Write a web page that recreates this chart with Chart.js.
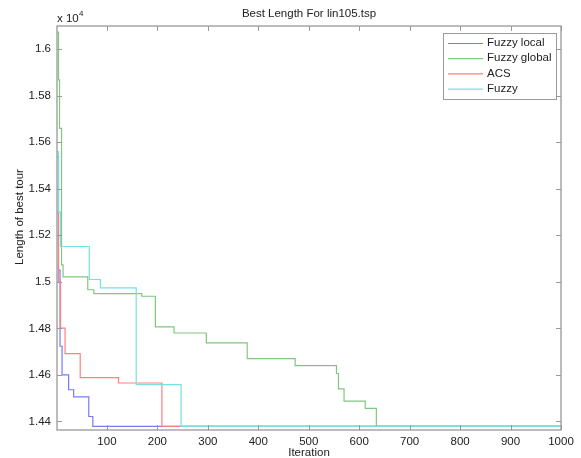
<!DOCTYPE html>
<html><head><meta charset="utf-8">
<script src="https://cdn.jsdelivr.net/npm/chart.js@4.4.1/dist/chart.umd.min.js"></script>
<style>html,body{margin:0;padding:0;background:#fff}#wrap{width:581px;height:458px}</style>
</head><body><div id="wrap"><canvas id="c" width="581" height="458"></canvas></div>
<script>
const chartTitle = "Best Length For lin105.tsp";
const xLabel = "Iteration";
const yLabel = "Length of best tour";
const seriesNames = ["Fuzzy local", "Fuzzy global", "ACS", "Fuzzy"];
const seriesColors = ["#7878ff", "#7fc87f", "#ff8080", "#78e0e0"];

const fuzzyLocalIter = [1, 4, 7, 11, 24, 34, 64, 72, 1000];
const fuzzyLocalLen  = [15538, 15050, 14723, 14600, 14536, 14505, 14421, 14379, 14379];

const fuzzyGlobalIter = [1, 4, 6, 10, 13, 62, 74, 169, 196, 233, 297, 378, 473, 555, 559, 570, 612, 634, 1000];
const fuzzyGlobalLen  = [16074, 15868, 15660, 15073, 15021, 14966, 14949, 14938, 14806, 14780, 14738, 14670, 14640, 14606, 14540, 14487, 14456, 14379, 14379];

const acsIter = [1, 4, 8, 17, 47, 123, 209, 1000];
const acsLen  = [15300, 15000, 14801, 14691, 14588, 14565, 14379, 14379];

const fuzzyIter = [1, 4, 8, 65, 87, 158, 247, 1000];
const fuzzyLen  = [15560, 15300, 15152, 15010, 14974, 14558, 14379, 14379];

const xTicks = [100, 200, 300, 400, 500, 600, 700, 800, 900, 1000];
const yTicks = [14400, 14600, 14800, 15000, 15200, 15400, 15600, 15800, 16000];

function pts(xs, ys) { return xs.map((x, i) => ({x: x, y: ys[i]})); }
const allSeries = [[fuzzyLocalIter, fuzzyLocalLen], [fuzzyGlobalIter, fuzzyGlobalLen], [acsIter, acsLen], [fuzzyIter, fuzzyLen]];

const FONT = '"Liberation Sans", Arial, sans-serif';
const TXT = '#222';

const deco = {
  id: 'deco',
  afterDraw(chart) {
    const ctx = chart.ctx, a = chart.chartArea;
    const xs = chart.scales.x, ys = chart.scales.y;
    ctx.save();
    ctx.strokeStyle = '#999'; ctx.lineWidth = 1.3;
    ctx.strokeRect(a.left, a.top, a.right - a.left, a.bottom - a.top);
    ctx.beginPath();
    xTicks.forEach(v => { const px = Math.round(xs.getPixelForValue(v)) + 0.5;
      ctx.moveTo(px, a.bottom); ctx.lineTo(px, a.bottom - 5);
      ctx.moveTo(px, a.top); ctx.lineTo(px, a.top + 5); });
    yTicks.forEach(v => { const py = Math.round(ys.getPixelForValue(v)) + 0.5;
      ctx.moveTo(a.left, py); ctx.lineTo(a.left + 5, py);
      ctx.moveTo(a.right, py); ctx.lineTo(a.right - 5, py); });
    ctx.lineWidth = 1; ctx.stroke();
    ctx.fillStyle = TXT;
    ctx.font = '11.5px ' + FONT;
    ctx.textAlign = 'center'; ctx.textBaseline = 'middle';
    ctx.fillText(chartTitle, (a.left + a.right) / 2, 14);
    ctx.fillText(xLabel, (a.left + a.right) / 2, 453);
    ctx.save();
    ctx.translate(20, 217); ctx.rotate(-Math.PI / 2);
    ctx.fillText(yLabel, 0, 0);
    ctx.restore();
    ctx.textAlign = 'left'; ctx.textBaseline = 'alphabetic';
    ctx.fillText('x 10', a.left, 22);
    ctx.font = '8px ' + FONT;
    ctx.fillText('4', a.left + 22, 16);
    const lx = 443, ly = 33, lw = 113, lh = 66;
    ctx.fillStyle = '#fff'; ctx.fillRect(lx, ly, lw, lh);
    ctx.strokeStyle = '#999'; ctx.lineWidth = 1;
    ctx.strokeRect(lx + 0.5, ly + 0.5, lw, lh);
    ctx.font = '11.5px ' + FONT; ctx.textBaseline = 'middle';
    chart.data.datasets.forEach((ds, i) => {
      const y = ly + 10 + i * 15.2;
      ctx.strokeStyle = ds.borderColor; ctx.lineWidth = 1.2;
      ctx.beginPath(); ctx.moveTo(448, y + 0.5); ctx.lineTo(483, y + 0.5); ctx.stroke();
      ctx.fillStyle = TXT; ctx.fillText(ds.label, 487, y);
    });
    ctx.restore();
  }
};

new Chart(document.getElementById('c'), {
  type: 'line',
  data: {
    datasets: allSeries.map((s, i) => ({
      label: seriesNames[i],
      data: pts(s[0], s[1]),
      borderColor: seriesColors[i],
      backgroundColor: seriesColors[i],
      borderWidth: 1.2,
      pointRadius: 0,
      stepped: 'before',
      fill: false,
      order: 3 - i
    }))
  },
  options: {
    responsive: false,
    animation: false,
    events: [],
    layout: { padding: { left: 0, top: 26, right: 20, bottom: 0 } },
    plugins: { legend: { display: false }, title: { display: false }, tooltip: { enabled: false } },
    scales: {
      x: {
        type: 'linear', min: 1, max: 1000,
        grid: { display: false, drawTicks: false },
        border: { display: false },
        afterBuildTicks(s) { s.ticks = xTicks.map(v => ({ value: v })); },
        ticks: { padding: 5, color: TXT, font: { family: FONT, size: 11.5 }, maxRotation: 0, autoSkip: false,
          callback: v => String(v) },
        afterFit(s) { s.height = 28; }
      },
      y: {
        type: 'linear', min: 14363, max: 16100,
        grid: { display: false, drawTicks: false },
        border: { display: false },
        afterBuildTicks(s) { s.ticks = yTicks.map(v => ({ value: v })); },
        ticks: { padding: 6, color: TXT, font: { family: FONT, size: 11.5 }, autoSkip: false,
          callback: v => String(+(v / 10000).toFixed(4)) },
        afterFit(s) { s.width = 57; }
      }
    }
  },
  plugins: [deco]
});
</script></body></html>
